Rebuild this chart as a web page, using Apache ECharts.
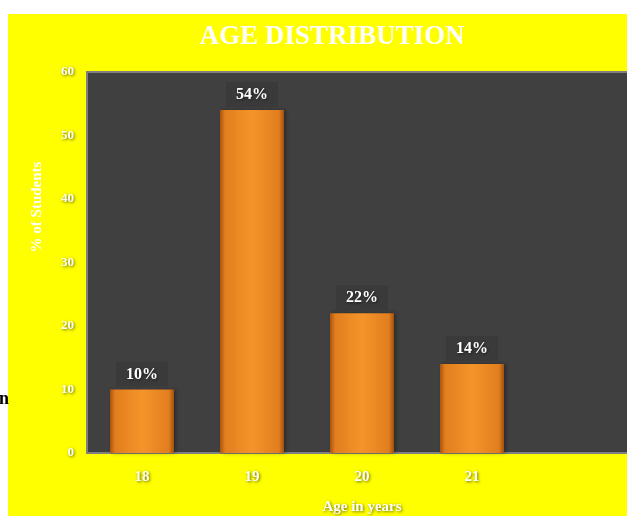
<!DOCTYPE html>
<html>
<head>
<meta charset="utf-8">
<script src="https://cdn.jsdelivr.net/npm/echarts@6/dist/echarts.min.js"></script>
<style>
html,body{margin:0;padding:0;background:#fff;}
#wrap{position:relative;width:627px;height:516px;overflow:hidden;background:#fff;}
#yel{position:absolute;left:8px;top:14px;width:619px;height:502px;background:#FFFF00;}
#c{position:absolute;left:0;top:0;width:627px;height:516px;}
</style>
</head>
<body>
<div id="wrap"><div id="yel"></div><div id="c"></div></div>
<script>
var ages = ['18', '19', '20', '21'];
var percents = [10, 54, 22, 14];
var yTicks = [0, 10, 20, 30, 40, 50, 60];
var titleText = 'AGE DISTRIBUTION';
var xName = 'Age in years';
var yName = '% of Students';

var serif = '"Liberation Serif", "DejaVu Serif", serif';
var shadow = {textShadowColor: 'rgba(0,0,0,0.6)', textShadowBlur: 3, textShadowOffsetX: 1, textShadowOffsetY: 1};

var chart = echarts.init(document.getElementById('c'), null, {renderer: 'canvas'});
var barColor = new echarts.graphic.LinearGradient(0, 0, 1, 0, [
  {offset: 0, color: '#A9540F'},
  {offset: 0.08, color: '#E27E1E'},
  {offset: 0.5, color: '#F5942A'},
  {offset: 0.92, color: '#E27E1E'},
  {offset: 1, color: '#A0500E'}
]);
chart.setOption({
  backgroundColor: 'transparent',
  animation: false,
  grid: {left: 87, right: -10, top: 72, bottom: 63, show: true, backgroundColor: '#404040', borderColor: '#7f7f7f', borderWidth: 2, containLabel: false, outerBoundsMode: 'none'},
  xAxis: {
    type: 'category',
    data: ages.concat(['']),
    name: xName, nameLocation: 'middle', nameGap: 47,
    nameTextStyle: Object.assign({color: '#fff', fontFamily: serif, fontWeight: 'bold', fontSize: 15}, shadow),
    axisLine: {lineStyle: {color: '#7f7f7f', width: 2}},
    axisTick: {show: false},
    axisLabel: Object.assign({color: '#fff', fontFamily: serif, fontWeight: 'bold', fontSize: 15, margin: 17}, shadow)
  },
  yAxis: {
    type: 'value', min: yTicks[0], max: yTicks[yTicks.length - 1], interval: 10,
    axisLine: {show: true, lineStyle: {color: '#7f7f7f', width: 2}},
    axisTick: {show: false},
    splitLine: {show: false},
    axisLabel: Object.assign({color: '#fff', fontFamily: serif, fontWeight: 'bold', fontSize: 13, margin: 13}, shadow)
  },
  series: [{
    type: 'bar',
    data: percents,
    barWidth: 64,
    itemStyle: {color: barColor, shadowColor: 'rgba(0,0,0,0.35)', shadowBlur: 4, shadowOffsetX: 2},
    label: Object.assign({
      show: true, position: 'top', distance: 3,
      formatter: function (p) { return p.value + '%'; },
      color: '#fff', fontFamily: serif, fontWeight: 'bold', fontSize: 16,
      backgroundColor: '#3a3a3a', padding: [5, 10, 4, 10]
    }, shadow)
  }],
  graphic: [
    {type: 'text', x: 332, y: 37, style: {text: titleText, fill: '#fff', font: 'bold 27px ' + serif, textAlign: 'center', textVerticalAlign: 'middle', shadowColor: 'rgba(0,0,0,0.7)', shadowBlur: 4, shadowOffsetX: 1, shadowOffsetY: 1}, z: 10},
    {type: 'text', x: 37, y: 207, rotation: Math.PI / 2, style: {text: yName, fill: '#fff', font: 'bold 15px ' + serif, textAlign: 'center', textVerticalAlign: 'middle', shadowColor: 'rgba(0,0,0,0.6)', shadowBlur: 3, shadowOffsetX: 1, shadowOffsetY: 1}, z: 10},
    {type: 'text', x: -1, y: 399, style: {text: 'n', fill: '#000', font: 'bold 18px ' + serif, textAlign: 'left', textVerticalAlign: 'middle'}, z: 10}
  ]
});
</script>
</body>
</html>
